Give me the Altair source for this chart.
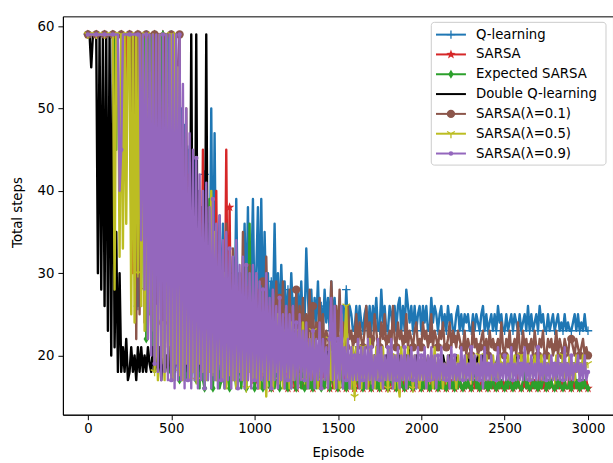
import math
import altair as alt
import pandas as pd

# ---------------- data (one value every 10 episodes) ----------------
episodes = list(range(0, 3001, 10))

q_learning = [
    59,59,59,59,59, 59,59,59,59,59, 59,59,59,59,59, 59,59,59,59,59, 59,59,59,59,59,
    59,59,59,59,30, 26,59,59,59,59, 59,59,59,59,59, 59,59,59,45,59, 59,35,59,59,30,
    59,28,59,30,55, 26,50,27,48,25, 45,26,42,25,44, 27,40,25,38,26, 42,25,36,26,50,
    24,47,25,30,37, 24,36,26,31,25, 30,24,32,25,39, 24,30,25,28,36, 25,38,24,29,39,
    24,30,38,25,39, 24,35,26,30,24, 29,25,36,24,30, 24,31,25,29,24, 28,24,30,25,27,
    23,28,24,29,23, 24,33,27,23,28, 23,27,24,29,23, 26,23,28,24,27, 23,29,24,27,23,
    23,26,24,26,23, 28,23,26,25,23, 23,26,23,26,24, 23,25,26,23,26, 23,26,24,27,23,
    23,28,24,26,23, 23,26,25,23,26, 23,26,27,23,26, 23,28,26,24,26, 23,26,23,25,26,
    23,26,24,26,23, 23,27,24,26,25, 23,25,26,23,25, 23,26,24,25,23, 23,25,26,23,25,
    23,25,24,25,23, 23,25,23,25,24, 23,25,26,23,25, 23,24,25,23,25, 23,26,24,25,23,
    23,25,23,24,25, 23,25,24,23,25, 23,24,25,23,26, 23,25,23,24,25, 23,26,24,25,23,
    23,25,23,24,25, 23,24,25,23,24, 23,25,23,24,23, 23,24,25,23,25, 23,24,23,25,23,
    23,
]
sarsa = [
    59,59,59,59,59, 59,59,59,59,59, 59,59,59,59,59, 59,59,52,59,59, 59,59,45,59,59,
    59,59,30,37,59, 59,59,35,59,59, 28,59,59,25,59, 59,22,59,59,21, 59,20,55,21,48,
    20,55,19,50,21, 45,19,48,20,40, 19,42,20,38,19, 35,20,30,19,45, 20,33,19,28,18,
    25,19,40,18,27, 18,26,19,45,18, 38,18,25,17,28, 18,24,17,30,18, 22,17,26,18,23,
    17,24,16,28,17, 21,16,25,17,22, 16,26,17,20,16, 23,17,19,16,25, 16,21,17,19,16,
    16,22,17,19,16, 20,16,23,17,18, 16,19,17,21,16, 18,16,20,17,18, 16,19,16,18,17,
    16,18,17,19,16, 16,17,18,16,19, 16,18,16,17,18, 16,17,19,16,17, 16,18,17,16,18,
    16,17,18,16,17, 16,18,16,17,16, 16,17,16,18,17, 16,17,16,17,18, 16,16,17,18,16,
    16,17,16,18,16, 16,17,18,16,17, 16,16,17,16,18, 16,17,16,17,16, 16,18,16,17,16,
    16,17,16,17,16, 16,18,16,17,16, 16,17,16,16,17, 16,17,18,16,17, 16,16,17,16,17,
    16,17,16,16,17, 16,17,16,18,16, 16,16,17,16,17, 16,17,16,17,16, 16,18,16,16,17,
    16,17,16,17,16, 16,16,17,16,17, 16,17,16,16,18, 16,17,16,17,16, 16,16,17,16,17,
    16,
]
expected_sarsa = [
    59,59,59,59,59, 59,59,59,59,59, 59,59,59,59,59, 59,59,45,59,59, 59,59,59,59,59,
    59,35,59,59,30, 59,59,28,59,59, 22,59,25,59,20, 59,21,59,40,59, 59,19,59,22,18,
    18,35,17,30,18, 17,28,18,25,17, 18,26,17,23,18, 17,22,16,28,17, 16,21,17,39,16,
    16,22,17,20,16, 17,19,16,24,17, 16,20,17,18,16, 17,21,16,19,17, 16,20,36,17,19,
    16,19,17,22,16, 16,18,17,20,16, 16,19,16,18,17, 16,21,17,18,16, 16,18,16,19,17,
    16,18,17,16,19, 16,17,18,16,17, 16,18,16,17,19, 16,17,16,18,17, 16,18,17,16,17,
    16,17,18,16,17, 16,17,16,18,16, 16,18,17,16,17, 16,17,16,17,18, 16,17,18,16,17,
    16,17,16,18,16, 16,17,17,16,18, 16,17,16,17,16, 16,18,16,17,16, 16,17,16,18,17,
    16,17,16,17,18, 16,16,17,16,17, 16,18,16,17,16, 16,17,17,16,17, 16,17,16,18,16,
    16,17,16,17,16, 16,17,18,16,17, 16,16,17,16,17, 16,17,16,18,16, 16,17,16,17,16,
    16,17,16,18,16, 16,17,16,17,16, 16,17,18,16,17, 16,16,17,16,17, 16,17,16,17,18,
    16,17,16,17,16, 16,18,16,17,16, 16,17,16,16,17, 16,17,18,16,17, 16,17,16,17,16,
    16,
]
double_q = [
    59,59,55,59,59, 59,30,59,28,59, 26,59,23,59,20, 59,21,35,18,30, 18,21,18,22,17,
    18,21,18,20,17, 21,18,21,18,20, 18,21,19,18,21, 18,20,18,21,17, 21,18,20,18,21,
    18,21,18,20,19, 21,18,20,19,21, 18,20,59,19,21, 59,18,21,19,20, 18,59,20,19,22,
    19,23,18,22,20, 19,24,18,21,19, 22,18,23,19,20, 18,22,19,21,18, 20,19,23,18,21,
    19,22,18,21,19, 20,18,23,19,21, 18,20,19,22,18, 19,21,18,20,19, 21,18,20,19,22,
    19,20,18,21,19, 20,19,21,18,20, 19,21,19,20,18, 19,20,19,21,19, 20,18,19,21,19,
    19,20,19,21,18, 19,20,19,20,19, 19,21,19,20,19, 19,20,18,19,20, 19,19,20,19,21,
    19,20,19,19,20, 19,21,19,20,19, 19,19,20,19,19, 19,20,19,21,19, 19,19,20,19,19,
    19,19,20,19,19, 19,20,19,19,19, 19,19,19,20,19, 19,19,20,19,19, 19,20,19,19,19,
    19,19,19,20,19, 19,19,19,19,20, 19,19,20,19,19, 19,19,19,19,19, 19,20,19,19,19,
    19,19,19,19,19, 19,19,20,19,19, 19,19,19,19,19, 19,19,19,20,19, 19,19,19,19,19,
    19,19,19,19,19, 19,19,19,19,19, 19,19,19,19,19, 19,19,19,19,19, 19,19,19,19,19,
    19,
]
sarsa_lambda_01 = [
    59,59,59,59,59, 59,59,59,59,59, 59,59,59,59,59, 59,59,59,59,59, 59,59,59,59,59,
    59,39,59,59,22, 59,25,59,46,24, 59,28,46,25,59, 59,26,59,30,50, 24,59,27,45,23,
    59,22,59,24,55, 59,23,45,21,50, 22,40,21,38,23, 35,21,40,22,36, 22,38,21,33,22,
    30,21,35,22,28, 20,32,21,36,22, 29,20,33,21,27, 22,30,20,35,21, 28,22,31,20,26,
    21,30,22,27,20, 29,21,32,22,26, 21,28,20,29,22, 27,21,29,20,25, 22,28,21,26,20,
    28,21,26,22,27, 21,25,22,28,21, 26,20,24,22,27, 21,25,20,23,22, 21,29,24,20,26,
    22,28,21,24,22, 21,26,22,23,21, 22,25,21,24,22, 21,23,26,22,24, 22,21,25,23,21,
    21,24,22,25,21, 22,23,21,26,22, 21,24,22,23,21, 22,25,21,23,22, 21,23,24,21,22,
    21,24,22,23,21, 22,25,21,23,22, 21,23,22,24,21, 21,22,24,21,23, 22,21,23,22,21,
    21,23,20,22,21, 20,24,21,22,20, 21,22,23,20,22, 20,23,21,22,21, 21,22,20,24,21,
    20,22,21,23,20, 21,22,20,24,21, 20,23,21,22,20, 21,22,20,23,21, 20,22,21,23,20,
    20,22,21,22,20, 21,23,20,22,21, 20,22,21,20,22, 22,21,20,22,21, 20,21,22,20,21,
    20,
]
sarsa_lambda_05 = [
    59,59,59,59,59, 59,59,59,59,59, 59,59,59,59,59, 59,28,59,59,32, 59,33,59,36,59,
    59,25,59,24,59, 30,59,26,59,23, 59,22,37,23,59, 18,26,17,59,19, 24,17,59,18,25,
    59,17,59,19,55, 18,45,17,38,19, 35,17,30,18,33, 17,28,19,32,18, 30,17,26,18,40,
    18,35,17,28,19, 26,17,30,16,25, 18,27,17,24,16, 25,18,23,17,26, 16,24,18,22,17,
    24,17,25,16,23, 18,22,15,24,17, 23,16,22,18,25, 17,21,16,23,18, 22,16,24,17,21,
    23,16,22,18,24, 17,21,16,22,17, 23,18,20,16,22, 17,21,18,20,16, 22,17,21,16,20,
    21,16,25,17,22, 26,17,20,16,21, 15,21,17,20,16, 21,17,19,16,22, 17,20,16,21,17,
    20,16,21,17,19, 16,21,17,20,16, 20,17,15,21,17, 19,16,21,17,20, 16,20,17,19,16,
    20,17,19,16,20, 17,19,16,21,17, 19,17,20,16,19, 17,20,18,19,17, 19,16,20,17,19,
    19,17,20,18,19, 17,20,18,19,17, 20,18,19,17,20, 18,19,17,20,18, 19,17,20,18,19,
    19,18,20,17,19, 18,20,18,19,17, 20,18,19,18,20, 17,19,18,20,18, 19,18,20,17,19,
    19,18,20,18,19, 17,20,18,19,18, 20,17,19,18,20, 18,19,17,20,18, 19,18,20,18,19,
    19,
]
sarsa_lambda_09 = [
    59,59,59,59,59, 59,59,59,59,59, 59,59,59,59,59, 59,59,59,59,40, 45,59,59,59,59,
    59,59,59,59,59, 59,59,34,59,28, 59,22,59,20,59, 19,59,18,59,17, 59,18,59,17,59,
    17,59,16,59,17, 59,17,53,16,50, 17,47,16,45,17, 44,16,42,17,40, 16,41,17,38,16,
    39,17,36,16,37, 17,34,16,35,17, 33,16,32,17,34, 16,31,17,32,16, 31,17,30,16,31,
    17,30,16,29,17, 28,16,30,17,27, 16,28,17,26,16, 27,17,25,16,26, 17,25,16,26,17,
    24,16,25,17,23, 17,24,16,22,17, 23,16,22,17,24, 16,22,17,21,16, 22,27,17,26,16,
    22,17,26,16,21, 17,22,16,21,17, 20,17,22,16,21, 17,21,16,22,17, 21,16,20,17,22,
    17,21,16,20,17, 21,17,22,16,20, 17,21,16,20,17, 21,16,20,17,21, 17,20,16,21,17,
    20,17,21,16,20, 17,21,17,20,16, 20,17,21,17,19, 17,20,16,21,17, 20,17,19,17,21,
    17,20,17,19,17, 21,17,20,17,19, 17,20,16,21,17, 19,17,20,17,19, 17,21,17,19,17,
    20,17,19,17,21, 17,19,17,20,17, 19,17,21,17,19, 17,20,17,19,17, 21,17,19,17,20,
    17,19,17,20,17, 19,17,20,17,19, 17,21,17,19,17, 20,17,19,18,20, 17,19,17,20,17,
    18,
]

series_names = ["Q-learning", "SARSA", "Expected SARSA", "Double Q-learning",
                "SARSA(λ=0.1)", "SARSA(λ=0.5)", "SARSA(λ=0.9)"]
series_values = [q_learning, sarsa, expected_sarsa, double_q,
                 sarsa_lambda_01, sarsa_lambda_05, sarsa_lambda_09]
series_colors = ["#1f77b4", "#d62728", "#2ca02c", "#000000",
                 "#8c564b", "#bcbd22", "#9467bd"]

x_ticks = [0, 500, 1000, 1500, 2000, 2500, 3000]
y_ticks = [20, 30, 40, 50, 60]
MARK_EVERY = 5  # a marker every 50 episodes

for v in series_values:
    assert len(v) == len(episodes), len(v)

# ---------------- styling ----------------
FONT = "DejaVu Sans"
FS = 13.3
W, H = 551, 399
LW = 2.4


def star_path():
    pts = []
    for k in range(10):
        a = math.radians(-90 + 36 * k)
        r = 1.0 if k % 2 == 0 else 0.4
        pts.append(f"{r * math.cos(a):.3f},{r * math.sin(a):.3f}")
    return "M" + "L".join(pts) + "Z"


marker_specs = [
    dict(shape="M-1,0L1,0M0,-1L0,1", filled=False, size=72, strokeWidth=1.3),
    dict(shape=star_path(), filled=True, size=100),
    dict(shape="M0,-1L0.6,0L0,1L-0.6,0Z", filled=True, size=80),
    None,
    dict(shape="circle", filled=True, size=70),
    dict(shape="M0,0L0,1M0,0L-0.866,-0.5M0,0L0.866,-0.5", filled=False, size=80, strokeWidth=1.3),
    dict(shape="circle", filled=True, size=20),
]

X = alt.X("Episode:Q",
          scale=alt.Scale(domain=[-150, 3150], nice=False, zero=False),
          axis=alt.Axis(values=x_ticks, format="d", title="Episode", labelPadding=2,
                        titleX=W / 2, titleY=41.5, titleBaseline="alphabetic",
                        titleAlign="center"))
Y = alt.Y("Steps:Q",
          scale=alt.Scale(domain=[12.8, 61.2], nice=False, zero=False),
          axis=alt.Axis(values=y_ticks, format="d", title="Total steps", labelPadding=4,
                        titleX=-41.6, titleY=196, titleAngle=-90,
                        titleBaseline="alphabetic", titleAlign="center"))

layers = []
for i, (name, vals, col) in enumerate(zip(series_names, series_values, series_colors)):
    df = pd.DataFrame({"Episode": episodes, "Steps": vals})
    layers.append(
        alt.Chart(df).mark_line(color=col, strokeWidth=LW, strokeJoin="round",
                                clip=True).encode(x=X, y=Y)
    )
    spec = marker_specs[i]
    if spec is not None:
        mk = df.iloc[::MARK_EVERY]
        layers.append(
            alt.Chart(mk).mark_point(color=col, opacity=1, clip=True, **spec).encode(x=X, y=Y)
        )

# ---------------- legend (drawn in pixel space) ----------------
one = pd.DataFrame({"k": [0]})
box = alt.Chart(one).mark_rect(fill="white", fillOpacity=0.8, stroke="#cccccc",
                               strokeWidth=1, cornerRadius=3).encode(
    x=alt.value(369), x2=alt.value(544), y=alt.value(6), y2=alt.value(149))
layers.append(box)
for i, (name, col) in enumerate(zip(series_names, series_colors)):
    yy = 18.3 + i * 19.85
    layers.append(alt.Chart(one).mark_rule(color=col, strokeWidth=2).encode(
        x=alt.value(373.7), x2=alt.value(403.7), y=alt.value(yy)))
    spec = marker_specs[i]
    if spec is not None:
        layers.append(alt.Chart(one).mark_point(color=col, opacity=1, **spec).encode(
            x=alt.value(388.7), y=alt.value(yy)))
    layers.append(alt.Chart(one).mark_text(text=name, align="left", baseline="middle",
                                           font=FONT, fontSize=FS, color="black").encode(
        x=alt.value(413.7), y=alt.value(yy)))

chart = alt.layer(*layers).properties(
    width=W, height=H,
    autosize=alt.AutoSizeParams(type="none"),
    padding={"left": 63, "top": 16, "right": 0, "bottom": 48},
).configure_axis(
    labelFont=FONT, labelFontSize=FS, titleFont=FONT, titleFontSize=FS,
    titleFontWeight="normal", labelColor="black", titleColor="black",
    tickColor="black", domainColor="black", tickSize=5, tickWidth=1,
    domainWidth=1, grid=False,
).configure_view(stroke="black", strokeWidth=1)

chart.save("out.html", embed_options={"renderer": "svg", "actions": False})
